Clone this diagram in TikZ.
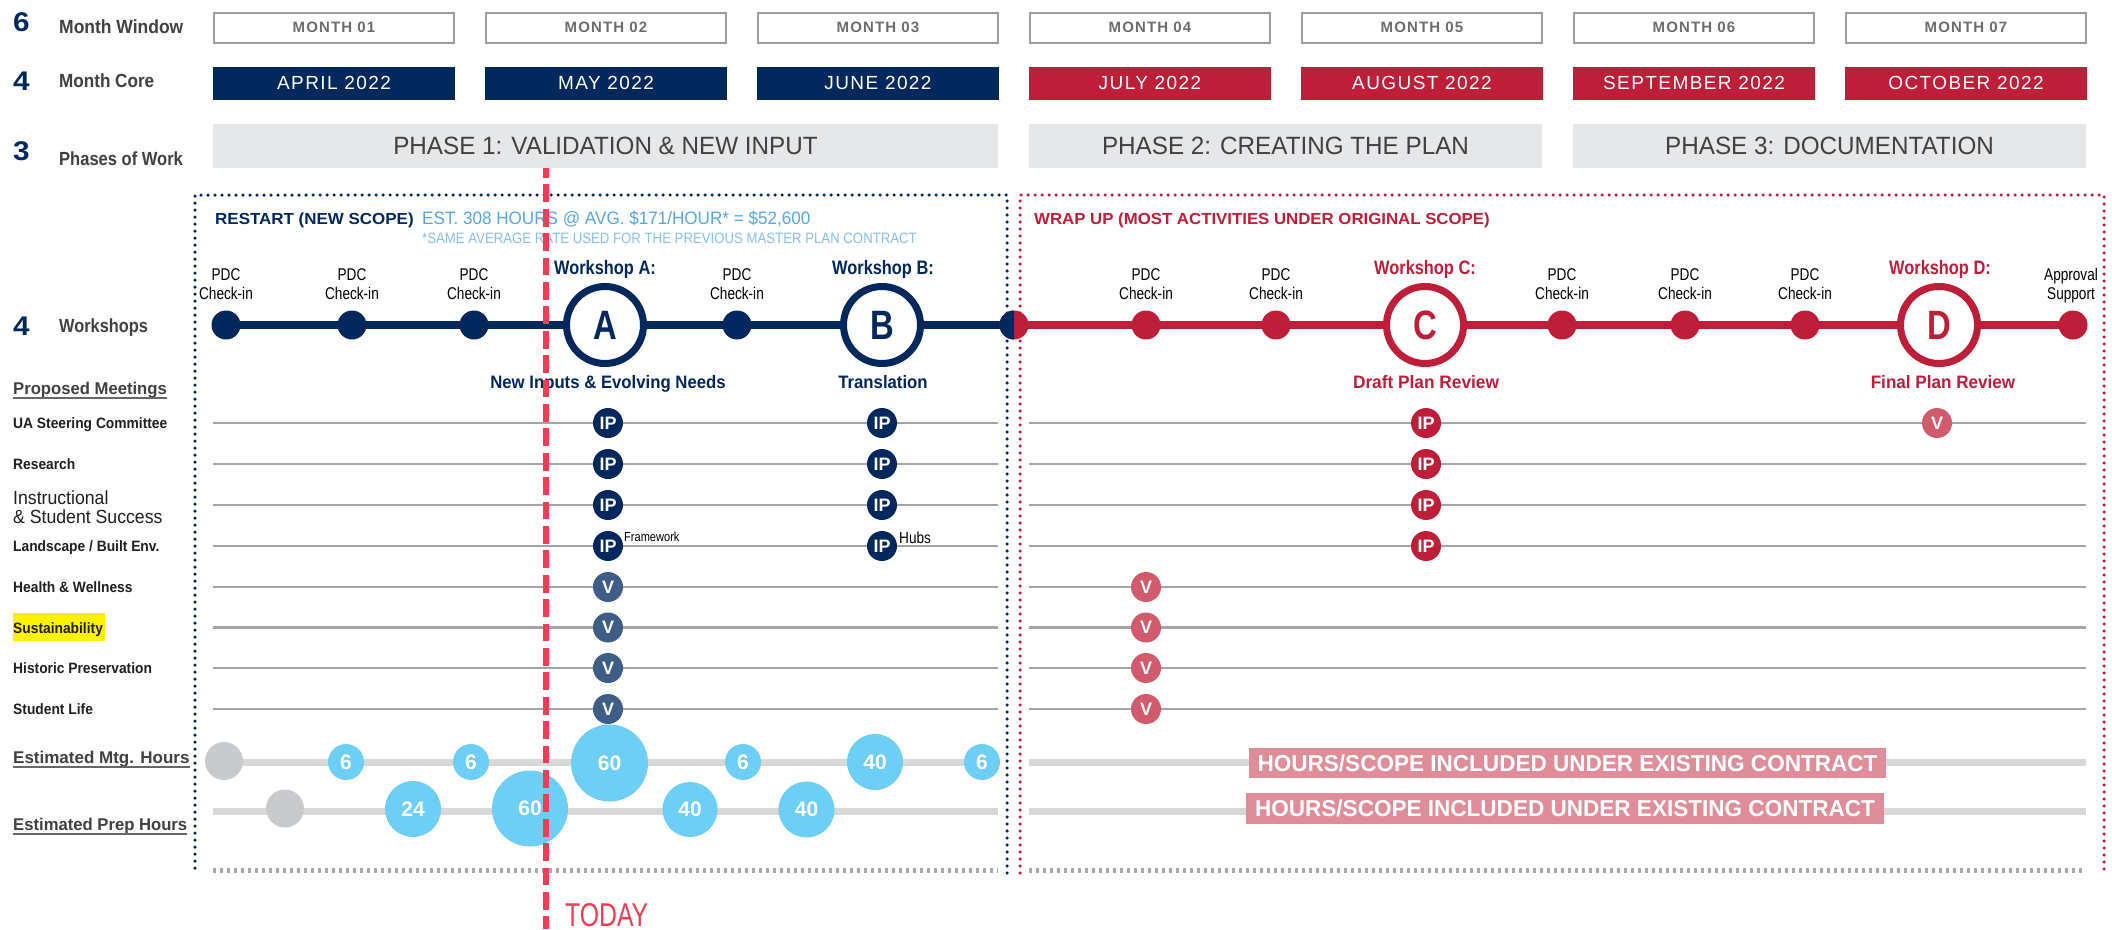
\documentclass[tikz,border=0pt]{standalone}
\usepackage{fontspec}
\usepackage{graphicx}
\setmainfont{Liberation Sans}
\newfontfamily\spacedfont[LetterSpace=7.5]{Liberation Sans}
\usetikzlibrary{backgrounds}
\definecolor{cnavy}{HTML}{00285C}
\definecolor{cred}{HTML}{BF1E38}
\definecolor{clightred}{HTML}{D15B6D}
\definecolor{chbox}{HTML}{DF8E99}
\definecolor{cbluegray}{HTML}{3F5E87}
\definecolor{cbub}{HTML}{6DCFF6}
\definecolor{cgraybub}{HTML}{C9CACC}
\definecolor{crow}{HTML}{A3A5A8}
\definecolor{chr}{HTML}{D7D8D9}
\definecolor{cphase}{HTML}{E6E7E8}
\definecolor{cmborder}{HTML}{9C9EA1}
\definecolor{cmtext}{HTML}{6D6E71}
\definecolor{ctoday}{HTML}{EE3D55}
\definecolor{cest}{HTML}{5AA7DD}
\definecolor{cnote}{HTML}{86C0E9}
\definecolor{cdark}{HTML}{414042}
\definecolor{cblack}{HTML}{231F20}
\definecolor{cdots}{HTML}{A7A9AC}
\definecolor{chl}{HTML}{FFF200}
\newcommand{\hs}[2]{\scalebox{#1}[1]{#2}}
\newcommand{\fsz}[1]{\fontsize{#1}{#1}\selectfont}
\newcommand{\twoline}[4]{%
  \node[pdcf] (#1a) at (#2,280) {\hs{0.8}{#3}};
  \node[pdcf] (#1b) at (#2,299) {\hs{0.8}{#4}};}
\tikzset{
  num/.style={anchor=base west, inner sep=0pt, text=cnavy, font=\fsz{27}\bfseries},
  hdr/.style={anchor=base west, inner sep=0pt, text=cdark, font=\fsz{19}\bfseries},
  monthwin/.style={draw=cmborder, line width=2pt, fill=white, minimum width=240pt, minimum height=30pt, inner sep=0pt, text=cmtext, font=\spacedfont\fsz{15}\bfseries},
  monthcore/.style={fill=#1, minimum width=242pt, minimum height=33pt, inner sep=0pt, text=white, font=\spacedfont\fsz{19}},
  phasebox/.style={fill=cphase, minimum height=44pt, inner sep=0pt, text=cdark, font=\fsz{25}},
  bluedots/.style={cnavy, line width=3.5pt, line cap=round, dash pattern=on 0pt off 7pt},
  reddots/.style={cred, line width=3.5pt, line cap=round, dash pattern=on 0pt off 7pt},
  graydots/.style={cdots, line width=5pt, dash pattern=on 2.5pt off 4.5pt},
  sdot/.style={circle, fill=#1, minimum size=29pt, inner sep=0pt, outer sep=0pt},
  ring/.style={circle, draw=#1, line width=7pt, fill=white, minimum size=77pt, inner sep=0pt, text=#1, font=\fsz{41}\bfseries},
  wline/.style={#1, line width=8pt},
  pdcf/.style={anchor=base, inner sep=0pt, text=black, font=\fsz{17}},
  wsl/.style={anchor=base, inner sep=0pt, text=#1, font=\fsz{19.5}\bfseries},
  wsub/.style={anchor=base, inner sep=0pt, text=#1, font=\fsz{18}\bfseries},
  rowlbl/.style={anchor=base west, inner sep=0pt, text=cblack, font=\fsz{15}\bfseries},
  ulbl/.style={anchor=base west, inner sep=0pt, text=cdark, font=\fsz{17}\bfseries},
  uline/.style={cdark!80, line width=1.5pt},
  rowline/.style={crow, line width=2.2pt},
  hrline/.style={chr, line width=7pt},
  mk/.style={circle, fill=#1, minimum size=30pt, inner sep=0pt, text=white, font=\fsz{18}\bfseries},
  bub/.style={circle, fill=cbub, inner sep=0pt, text=white, font=\fsz{21}\bfseries},
  hbox/.style={fill=chbox, inner sep=0pt, text=white, font=\fsz{23}\bfseries},
  note/.style={anchor=base west, inner sep=0pt, text=black, font=\fsz{13}},
  todayline/.style={ctoday, line width=6pt, dash pattern=on 17.7pt off 6.7pt, dash phase=8pt}
}
\begin{document}
\begin{tikzpicture}[x=1pt,y=-1pt]
\useasboundingbox (0,0) rectangle (2112,929);
\begin{scope}[on background layer]
\fill[white] (0,0) rectangle (2112,929);
\end{scope}

% left header labels
\node[num] (n6) at (13,31.7) {\hs{1.1}{6}};
\node[hdr] (lmw) at (59,33) {\hs{0.92}{Month Window}};
\node[num] (n4a) at (13,90) {\hs{1.1}{4}};
\node[hdr] (lmc) at (59,87) {\hs{0.9}{Month Core}};
\node[num] (n3) at (13,160) {\hs{1.1}{3}};
\node[hdr] (lpw) at (59,165) {\hs{0.87}{Phases of Work}};
\node[num] (n4b) at (13,335) {\hs{1.1}{4}};
\node[hdr] (lws) at (59,332) {\hs{0.86}{Workshops}};

% month boxes
\foreach \i/\m/\c/\col in {0/01/APRIL 2022/cnavy, 1/02/MAY 2022/cnavy, 2/03/JUNE 2022/cnavy, 3/04/JULY 2022/cred, 4/05/AUGUST 2022/cred, 5/06/SEPTEMBER 2022/cred, 6/07/OCTOBER 2022/cred}{
  \node[monthwin] (mw\i) at ({334+272*\i},27.5) {MONTH \m};
  \node[monthcore=\col] (mc\i) at ({334+272*\i},83.3) {\c};
}

% phases
\node[phasebox, minimum width=785pt] (p1) at (605.5,146) {\hs{0.97}{PHASE 1: VALIDATION \& NEW INPUT}};
\node[phasebox, minimum width=513pt] (p2) at (1285.5,146) {\hs{0.97}{PHASE 2: CREATING THE PLAN}};
\node[phasebox, minimum width=513pt] (p3) at (1829.5,146) {\hs{0.97}{PHASE 3: DOCUMENTATION}};

% dotted frames
\draw[bluedots] (1007,873) -- (1007,195) -- (195,195) -- (195,873);
\draw[reddots] (1020,873) -- (1020,195) -- (2104,195) -- (2104,873);
\draw[graydots] (213,870) -- (998,870);
\draw[graydots] (1029,870) -- (2086,870);

% frame headings
\node[anchor=base west, inner sep=0pt, text=cnavy, font=\fsz{16}\bfseries] (restart) at (215,224) {\hs{1.06}{RESTART (NEW SCOPE)}};
\node[anchor=base west, inner sep=0pt, text=cest, font=\fsz{18}] (est) at (422,224) {\hs{0.95}{EST. 308 HOURS @ AVG. \$171/HOUR* = \$52,600}};
\node[anchor=base west, inner sep=0pt, text=cnote, font=\fsz{15}] (rate) at (422,243) {\hs{0.88}{*SAME AVERAGE RATE USED FOR THE PREVIOUS MASTER PLAN CONTRACT}};
\node[anchor=base west, inner sep=0pt, text=cred, font=\fsz{16}\bfseries] (wrap) at (1034,224) {\hs{1.05}{WRAP UP (MOST ACTIVITIES UNDER ORIGINAL SCOPE)}};

% workshop timeline nodes
\node[sdot=cnavy] (w1) at (226,325) {};
\node[sdot=cnavy] (w2) at (352,325) {};
\node[sdot=cnavy] (w3) at (474,325) {};
\node[ring=cnavy] (wA) at (605,325) {\hs{0.8}{A}};
\node[sdot=cnavy] (w4) at (737,325) {};
\node[ring=cnavy] (wB) at (882,325) {\hs{0.8}{B}};
\node[sdot=cred] (wh) at (1014,325) {};
\begin{scope}
\clip (990,300) rectangle (1014,350);
\fill[cnavy] (wh.center) circle[radius=14.5pt];
\end{scope}
\node[sdot=cred] (w5) at (1146,325) {};
\node[sdot=cred] (w6) at (1276,325) {};
\node[ring=cred] (wC) at (1425,325) {\hs{0.8}{C}};
\node[sdot=cred] (w7) at (1562,325) {};
\node[sdot=cred] (w8) at (1685,325) {};
\node[sdot=cred] (w9) at (1805,325) {};
\node[ring=cred] (wD) at (1939,325) {\hs{0.8}{D}};
\node[sdot=cred] (w10) at (2073,325) {};
\begin{scope}[on background layer]
\draw[wline=cnavy] (w1.center) -- (w2.center) -- (w3.center) -- (wA.center) -- (w4.center) -- (wB.center) -- (wh.center);
\draw[wline=cred] (wh.center) -- (w5.center) -- (w6.center) -- (wC.center) -- (w7.center) -- (w8.center) -- (w9.center) -- (wD.center) -- (w10.center);
\end{scope}

% timeline labels
\twoline{t1}{226}{PDC}{Check-in}
\twoline{t2}{352}{PDC}{Check-in}
\twoline{t3}{474}{PDC}{Check-in}
\twoline{t4}{737}{PDC}{Check-in}
\twoline{t5}{1146}{PDC}{Check-in}
\twoline{t6}{1276}{PDC}{Check-in}
\twoline{t7}{1562}{PDC}{Check-in}
\twoline{t8}{1685}{PDC}{Check-in}
\twoline{t9}{1805}{PDC}{Check-in}
\twoline{t10}{2071}{Approval}{Support}
\node[wsl=cnavy] (lA) at (605,274) {\hs{0.84}{Workshop A:}};
\node[wsl=cnavy] (lB) at (883,274) {\hs{0.84}{Workshop B:}};
\node[wsl=cred] (lC) at (1425,274) {\hs{0.84}{Workshop C:}};
\node[wsl=cred] (lD) at (1940,274) {\hs{0.84}{Workshop D:}};
\node[wsub=cnavy] (sA) at (608,388) {\hs{0.93}{New Inputs \& Evolving Needs}};
\node[wsub=cnavy] (sB) at (883,388) {\hs{0.93}{Translation}};
\node[wsub=cred] (sC) at (1426,388) {\hs{0.96}{Draft Plan Review}};
\node[wsub=cred] (sD) at (1943,388) {\hs{0.95}{Final Plan Review}};

% proposed meetings labels
\node[ulbl] (pm) at (13,394) {\hs{0.98}{Proposed Meetings}};
\draw[uline] ([yshift=-4pt]pm.base west) -- ([yshift=-4pt]pm.base east);
\fill[chl] (13,613) rectangle (105,641);
\node[rowlbl] (r0) at (13,428.5) {\hs{0.92}{UA Steering Committee}};
\node[rowlbl] (r1) at (13,469.5) {\hs{0.92}{Research}};
\node[anchor=base west, inner sep=0pt, text=cblack, font=\fsz{19}] (r2a) at (13,504) {\hs{0.93}{Instructional}};
\node[anchor=base west, inner sep=0pt, text=cblack, font=\fsz{19}] (r2b) at (13,523) {\hs{0.93}{\& Student Success}};
\node[rowlbl] (r3) at (13,551.5) {\hs{0.92}{Landscape / Built Env.}};
\node[rowlbl] (r4) at (13,592.5) {\hs{0.92}{Health \& Wellness}};
\node[rowlbl] (r5) at (13,633) {\hs{0.92}{Sustainability}};
\node[rowlbl] (r6) at (13,673.5) {\hs{0.92}{Historic Preservation}};
\node[rowlbl] (r7) at (13,714.5) {\hs{0.92}{Student Life}};

% row lines
\foreach \y in {423,464,505,546,587,627.5,668,709}{
  \draw[rowline] (213,\y) -- (998,\y);
  \draw[rowline] (1029,\y) -- (2086,\y);
}

% meeting markers
\foreach \y [count=\k from 0] in {423,464,505,546}{
  \node[mk=cnavy] (mA\k) at (608,\y) {IP};
  \node[mk=cnavy] (mB\k) at (882,\y) {IP};
  \node[mk=cred] (mC\k) at (1426,\y) {IP};
}
\foreach \y [count=\k from 4] in {587,627.5,668,709}{
  \node[mk=cbluegray] (mA\k) at (608,\y) {V};
  \node[mk=clightred] (mE\k) at (1146,\y) {V};
}
\node[mk=clightred] (mD0) at (1937,423) {V};
\node[note] (fw) at (624,541) {\hs{0.85}{Framework}};
\node[note, font=\fsz{16}] (hubs) at (899,543) {\hs{0.85}{Hubs}};

% hours
\node[ulbl] (emh) at (13,763) {Estimated Mtg. Hours};
\draw[uline] ([yshift=-4pt]emh.base west) -- ([yshift=-4pt]emh.base east);
\node[ulbl] (eph) at (13,830) {\hs{0.98}{Estimated Prep Hours}};
\draw[uline] ([yshift=-4pt]eph.base west) -- ([yshift=-4pt]eph.base east);
\draw[hrline] (213,762) -- (998,762);
\draw[hrline] (1029,762) -- (2086,762);
\draw[hrline] (213,811) -- (998,811);
\draw[hrline] (1029,811) -- (2086,811);

\node[bub, fill=cgraybub, minimum size=38pt] (g1) at (224,761) {};
\node[bub, minimum size=36pt] (h1) at (346,762) {6};
\node[bub, minimum size=36pt] (h2) at (471,762) {6};
\node[bub, minimum size=77pt] (h3) at (609.5,763) {60};
\node[bub, minimum size=36pt] (h4) at (743,762) {6};
\node[bub, minimum size=56pt] (h5) at (875,762) {40};
\node[bub, minimum size=36pt] (h6) at (982,762) {6};
\node[bub, fill=cgraybub, minimum size=38pt] (g2) at (285,808.5) {};
\node[bub, minimum size=56pt] (q1) at (413,809) {24};
\node[bub, minimum size=76pt] (q2) at (530,808.5) {60};
\node[bub, minimum size=55pt] (q3) at (690,809.5) {40};
\node[bub, minimum size=56pt] (q4) at (806.5,809.5) {40};

\node[hbox, minimum width=637pt, minimum height=30pt] (hb1) at (1567.5,763) {\hs{0.98}{HOURS/SCOPE INCLUDED UNDER EXISTING CONTRACT}};
\node[hbox, minimum width=638pt, minimum height=31pt] (hb2) at (1565,808.5) {\hs{0.98}{HOURS/SCOPE INCLUDED UNDER EXISTING CONTRACT}};

% today
\coordinate (tt) at (546,168);
\coordinate (tb) at (546,929);
\draw[todayline] (tt) -- (tb);
\node[anchor=base west, inner sep=0pt, text=ctoday, font=\fsz{33}] (today) at (565,926) {\hs{0.75}{TODAY}};
\end{tikzpicture}
\end{document}
